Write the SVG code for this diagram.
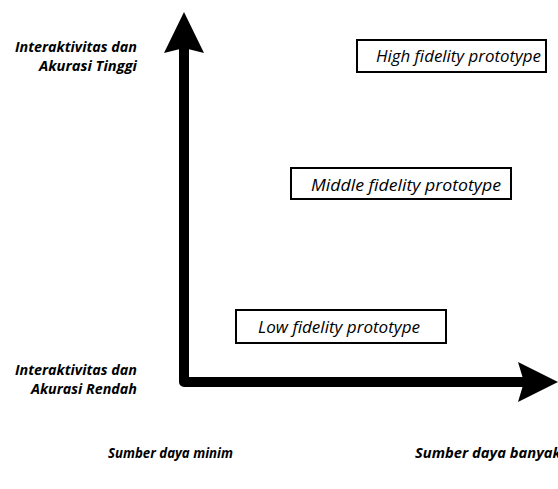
<svg xmlns="http://www.w3.org/2000/svg" width="558" height="489" viewBox="0 0 558 489">
<style>
.box{fill:#fff;stroke:#000;stroke-width:2}
.bt{font-family:"Open Sans","Liberation Sans",sans-serif;font-style:italic;font-size:16px;fill:#000}
.ax{font-family:"Open Sans","Liberation Sans",sans-serif;font-style:italic;font-weight:bold;font-size:14px;fill:#000}
.shaft{fill:none;stroke:#000;stroke-width:10;stroke-linejoin:round}
</style>
<rect width="558" height="489" fill="#fff"/>
<g id="connectors">
<path class="shaft" d="M184,48 V382 H524"/>
<polygon points="184,12 204,53 184,48 164,53" fill="#000"/>
<polygon points="558,382 518,362 524,382 518,402" fill="#000"/>
</g>
<g id="high">
<rect class="box" x="357" y="40" width="189" height="32"/>
<text class="bt" x="376" y="62" textLength="165" lengthAdjust="spacingAndGlyphs">High fidelity prototype</text>
</g>
<g id="middle">
<rect class="box" x="291" y="168" width="220" height="31"/>
<text class="bt" x="311" y="191" textLength="190" lengthAdjust="spacingAndGlyphs">Middle fidelity prototype</text>
</g>
<g id="low">
<rect class="box" x="236" y="310" width="210" height="33"/>
<text class="bt" x="258" y="333" textLength="162" lengthAdjust="spacingAndGlyphs">Low fidelity prototype</text>
</g>
<g id="label-high">
<text class="ax" x="137" y="52" text-anchor="end" textLength="122" lengthAdjust="spacingAndGlyphs">Interaktivitas dan</text>
<text class="ax" x="137" y="71" text-anchor="end" textLength="98" lengthAdjust="spacingAndGlyphs">Akurasi Tinggi</text>
</g>
<g id="label-low">
<text class="ax" x="137" y="375" text-anchor="end" textLength="122" lengthAdjust="spacingAndGlyphs">Interaktivitas dan</text>
<text class="ax" x="137" y="394" text-anchor="end" textLength="106" lengthAdjust="spacingAndGlyphs">Akurasi Rendah</text>
</g>
<g id="label-min">
<text class="ax" x="108" y="458" textLength="125" lengthAdjust="spacingAndGlyphs">Sumber daya minim</text>
</g>
<g id="label-max">
<text class="ax" x="415" y="458" textLength="146" lengthAdjust="spacingAndGlyphs">Sumber daya banyak</text>
</g>
</svg>
